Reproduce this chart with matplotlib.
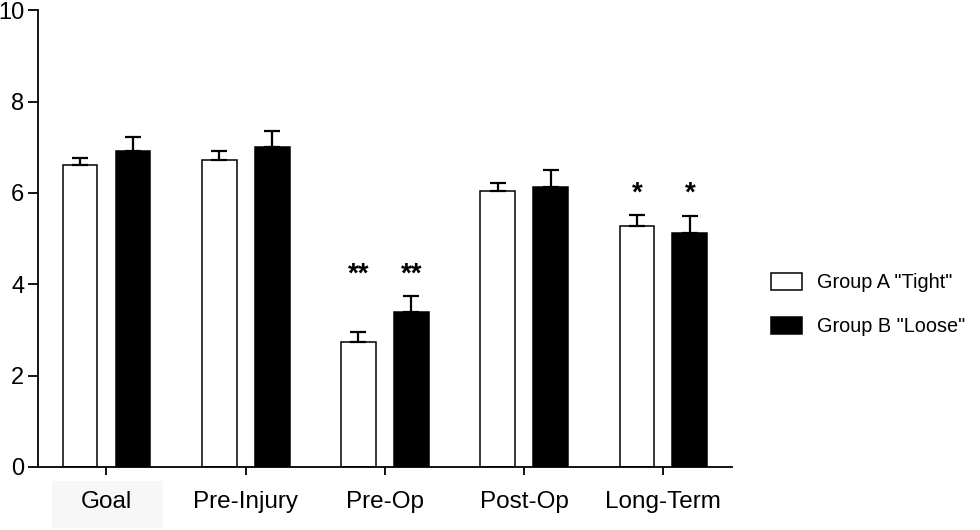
import numpy as np
import matplotlib
matplotlib.use("Agg")
import matplotlib.pyplot as plt
from matplotlib.patches import Rectangle

plt.rcParams["font.family"] = ["Liberation Sans", "DejaVu Sans"]

categories = ["Goal", "Pre-Injury", "Pre-Op", "Post-Op", "Long-Term"]
group_a = [6.62, 6.73, 2.74, 6.04, 5.28]
group_a_err = [0.15, 0.18, 0.22, 0.18, 0.24]
group_b = [6.92, 7.01, 3.39, 6.12, 5.13]
group_b_err = [0.31, 0.34, 0.35, 0.38, 0.37]
labels = ['Group A "Tight"', 'Group B "Loose"']
# significance marks: (category index, group offset sign, text, y)
marks = [(2, -1, "**", 4.2), (2, 1, "**", 4.2), (4, -1, "*", 5.98), (4, 1, "*", 5.98)]

fig = plt.figure(figsize=(9.8, 5.3), dpi=100)
ax = fig.add_axes([0.039, 0.119, 0.7076, 0.8617])

# faint box behind the first tick label, as in the source image
fig.patches.append(Rectangle((52 / 980, 2 / 530), 111 / 980, 47 / 530,
                             transform=fig.transFigure, facecolor="#f7f7f7",
                             edgecolor="none", zorder=-1))

x = np.arange(len(categories))
w = 0.25
off = 0.19
err_kw = dict(ecolor="black", elinewidth=1.6, capsize=5.5, capthick=1.6)
ax.bar(x - off, group_a, w, color="white", edgecolor="black", linewidth=1.1,
       yerr=[np.zeros(len(x)), group_a_err], error_kw=err_kw, label=labels[0])
ax.bar(x + off, group_b, w, color="black", edgecolor="black", linewidth=1.1,
       yerr=[np.zeros(len(x)), group_b_err], error_kw=err_kw, label=labels[1])

for i, sgn, txt, yy in marks:
    ax.text(x[i] + sgn * off, yy, txt, ha="center", va="center", fontsize=20,
            fontweight="bold")

ax.set_xlim(-0.49, 4.49)
ax.set_ylim(0, 10)
ax.set_yticks([0, 2, 4, 6, 8, 10])
ax.set_xticks(x)
ax.set_xticklabels(categories)
ax.tick_params(axis="y", labelsize=17, length=7, width=1.3, pad=3)
ax.tick_params(axis="x", labelsize=17.5, length=6, width=1.3, pad=11)
for s in ["top", "right"]:
    ax.spines[s].set_visible(False)
for s in ["left", "bottom"]:
    ax.spines[s].set_linewidth(1.3)

ax.legend(loc="center left", bbox_to_anchor=(1.031, 0.356), frameon=False,
          fontsize=14.3, handlelength=1.55, handleheight=0.95, labelspacing=1.25,
          handletextpad=0.75)

fig.savefig("out.png", dpi=100)
